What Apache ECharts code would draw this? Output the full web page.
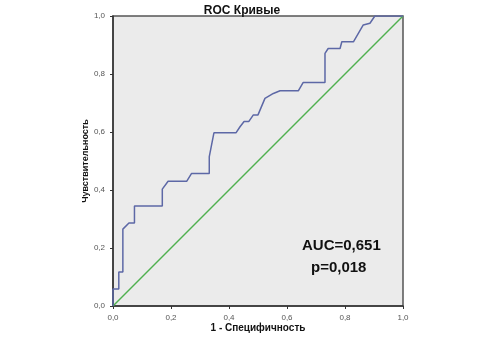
<!DOCTYPE html>
<html>
<head>
<meta charset="utf-8">
<script src="https://cdn.jsdelivr.net/npm/echarts@6/dist/echarts.min.js"></script>
<style>
  html, body { margin: 0; padding: 0; background: #fff; }
  #chart { width: 499px; height: 345px; }
</style>
</head>
<body>
<div id="chart"></div>
<script>
// ROC кривая: 1 - специфичность / чувствительность
const rocX = [0, 0, 0.02, 0.02, 0.034, 0.034, 0.055, 0.074, 0.074, 0.17, 0.17, 0.19, 0.254, 0.271, 0.332, 0.332, 0.348, 0.424, 0.438, 0.452, 0.468, 0.484, 0.5, 0.524, 0.553, 0.576, 0.639, 0.656, 0.731, 0.731, 0.742, 0.783, 0.789, 0.829, 0.863, 0.886, 0.903, 1];
const rocY = [0, 0.059, 0.059, 0.117, 0.117, 0.265, 0.286, 0.286, 0.345, 0.345, 0.403, 0.43, 0.43, 0.457, 0.457, 0.515, 0.597, 0.597, 0.618, 0.636, 0.636, 0.659, 0.659, 0.716, 0.733, 0.742, 0.742, 0.771, 0.771, 0.871, 0.888, 0.888, 0.911, 0.911, 0.969, 0.975, 1, 1];
const refX = [0, 1];
const refY = [0, 1];
const tickLabels = ["0,0", "0,2", "0,4", "0,6", "0,8", "1,0"];
const aucText = ["AUC=0,651", "p=0,018"];

const myChart = echarts.init(document.getElementById("chart"));

function toPairs(xs, ys) {
    return xs.map((x, i) => [x, ys[i]]);
}

function tickFmt(v) {
    return tickLabels[Math.round(v / 0.2)];
}

const axisCommon = {
    type: "value",
    min: 0,
    max: 1,
    interval: 0.2,
    nameMoveOverlap: false,
    axisLine: { show: true, onZero: false, lineStyle: { color: "#333", width: 1.5 } },
    axisTick: { show: true, length: 3, lineStyle: { color: "#333" } },
    axisLabel: { fontSize: 8, color: "#555", formatter: tickFmt, fontFamily: "Arial" },
    splitLine: { show: false },
    nameTextStyle: { fontSize: 10, fontWeight: "bold", color: "#111", fontFamily: "Arial" }
};

myChart.setOption({
    animation: false,
    backgroundColor: "#fff",
    title: {
        text: "ROC Кривые",
        left: 237,
        top: 0,
        textAlign: "center",
        textStyle: { fontSize: 12, fontWeight: "bold", color: "#111", fontFamily: "Arial" }
    },
    grid: {
        left: 113,
        top: 16,
        width: 290,
        height: 290,
        show: true,
        backgroundColor: "#ebebeb",
        borderColor: "#555",
        borderWidth: 1.5
    },
    xAxis: Object.assign({}, axisCommon, {
        name: "1 - Специфичность",
        nameLocation: "middle",
        nameGap: 17
    }),
    yAxis: Object.assign({}, axisCommon, {
        name: "Чувствительность",
        nameLocation: "middle",
        nameGap: 23,
        nameTextStyle: { fontSize: 9, fontWeight: "bold", color: "#111", fontFamily: "Arial" }
    }),
    graphic: [
        {
            type: "text",
            left: 302,
            top: 238,
            style: { text: aucText[0], fontSize: 15, fontWeight: "bold", fill: "#111", fontFamily: "Arial" }
        },
        {
            type: "text",
            left: 311,
            top: 260,
            style: { text: aucText[1], fontSize: 15, fontWeight: "bold", fill: "#111", fontFamily: "Arial" }
        }
    ],
    series: [
        {
            type: "line",
            data: toPairs(refX, refY),
            showSymbol: false,
            lineStyle: { color: "#4fb04f", width: 1.5 },
            z: 2
        },
        {
            type: "line",
            data: toPairs(rocX, rocY),
            showSymbol: false,
            lineStyle: { color: "#5d68a6", width: 1.5 },
            z: 3
        }
    ]
});
</script>
</body>
</html>
